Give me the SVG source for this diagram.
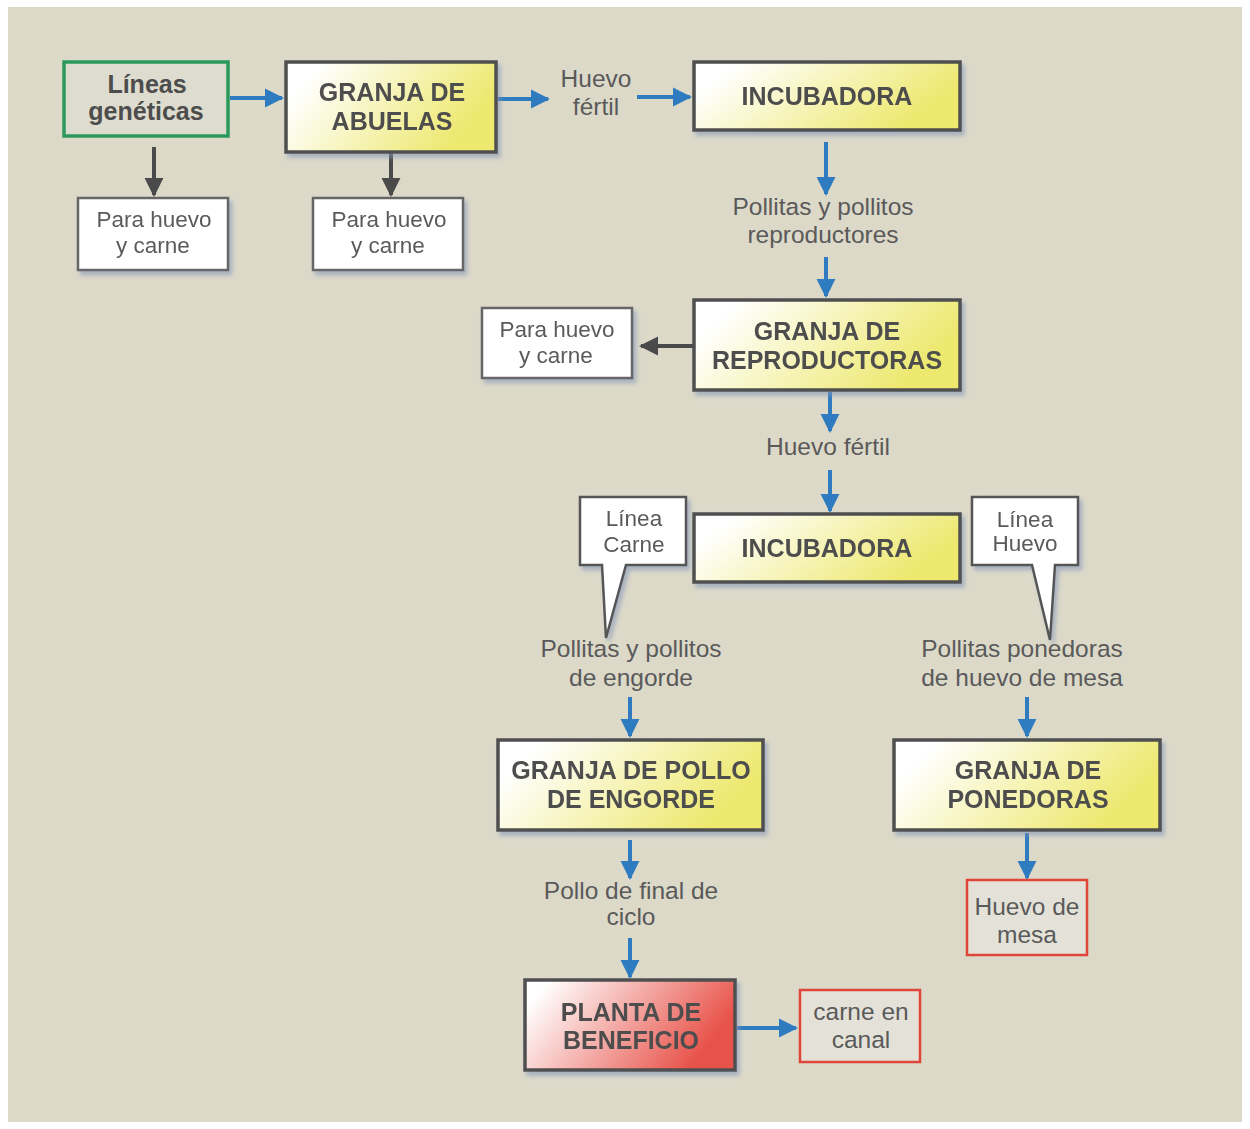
<svg xmlns="http://www.w3.org/2000/svg" width="1250" height="1129" viewBox="0 0 1250 1129">
<style>
.t{font-family:"Liberation Sans",Arial,sans-serif;font-weight:bold;font-size:25px;fill:#4d4d4d;text-anchor:middle}
.l{font-family:"Liberation Sans",Arial,sans-serif;font-size:24.5px;fill:#5a5a5a;text-anchor:middle}
.s{font-family:"Liberation Sans",Arial,sans-serif;font-size:22.5px;fill:#5a5a5a;text-anchor:middle}
.yb{fill:url(#yg);stroke:#4f4f4f;stroke-width:3.5}
.wb{fill:#ffffff;stroke:#666;stroke-width:2.5}
.rb{fill:#e4e2d8;stroke:#e0453a;stroke-width:2.5}
.ba{stroke:#2f7bbf;stroke-width:4;fill:none;marker-end:url(#bh)}
.da{stroke:#4a4a4a;stroke-width:4;fill:none;marker-end:url(#dh)}
</style>
<defs>
<linearGradient id="yg" x1="0" y1="0" x2="1" y2="0.35">
<stop offset="0.15" stop-color="#ffffff"/>
<stop offset="1" stop-color="#ede86e"/>
</linearGradient>
<linearGradient id="rg" x1="0" y1="0" x2="1" y2="0.35">
<stop offset="0.1" stop-color="#ffffff"/>
<stop offset="1" stop-color="#e8534a"/>
</linearGradient>
<filter id="sh" x="-10%" y="-10%" width="130%" height="140%">
<feDropShadow dx="3" dy="4" stdDeviation="2" flood-color="#8494b8" flood-opacity="0.6"/>
</filter>
<marker id="bh" viewBox="0 0 10 10" refX="9" refY="5" markerWidth="4.8" markerHeight="4.8" orient="auto" markerUnits="strokeWidth">
<path d="M0,0 L10,5 L0,10 Z" fill="#2f7bbf"/>
</marker>
<marker id="dh" viewBox="0 0 10 10" refX="9" refY="5" markerWidth="4.8" markerHeight="4.8" orient="auto" markerUnits="strokeWidth">
<path d="M0,0 L10,5 L0,10 Z" fill="#4a4a4a"/>
</marker>
</defs>
<rect x="0" y="0" width="1250" height="1129" fill="#ffffff"/>
<rect x="8" y="7" width="1234" height="1115" fill="#dcd9c9"/>

<g id="connectors">
<line class="ba" x1="230" y1="98" x2="282" y2="98"/>
<line class="ba" x1="498" y1="99" x2="548" y2="99"/>
<line class="ba" x1="637" y1="97" x2="690" y2="97"/>
<line class="ba" x1="826" y1="142" x2="826" y2="194"/>
<line class="ba" x1="826" y1="257" x2="826" y2="296"/>
<line class="ba" x1="830" y1="392" x2="830" y2="431"/>
<line class="ba" x1="830" y1="470" x2="830" y2="511"/>
<line class="ba" x1="630" y1="697" x2="630" y2="736"/>
<line class="ba" x1="1027" y1="697" x2="1027" y2="736"/>
<line class="ba" x1="630" y1="840" x2="630" y2="878"/>
<line class="ba" x1="630" y1="938" x2="630" y2="977"/>
<line class="ba" x1="1027" y1="833" x2="1027" y2="878"/>
<line class="ba" x1="737" y1="1028" x2="796" y2="1028"/>
<line class="da" x1="154" y1="147" x2="154" y2="195"/>
<line class="da" x1="391" y1="153" x2="391" y2="195"/>
<line class="da" x1="694" y1="346" x2="641" y2="346"/>
</g>

<g id="lineas-geneticas">
<rect x="64" y="62" width="164" height="74" fill="#dedcce" stroke="#2a9a5c" stroke-width="3.5"/>
<text class="t" x="147" y="93">Líneas</text>
<text class="t" x="146" y="120">genéticas</text>
</g>
<g id="granja-abuelas" filter="url(#sh)">
<rect class="yb" x="286" y="62" width="210" height="90"/>
<text class="t" x="392" y="101">GRANJA DE</text>
<text class="t" x="392" y="130">ABUELAS</text>
</g>
<g id="para1" filter="url(#sh)">
<rect class="wb" x="78" y="198" width="150" height="72"/>
<text class="s" x="154" y="227">Para huevo</text>
<text class="s" x="153" y="253">y carne</text>
</g>
<g id="para2" filter="url(#sh)">
<rect class="wb" x="313" y="198" width="150" height="72"/>
<text class="s" x="389" y="227">Para huevo</text>
<text class="s" x="388" y="253">y carne</text>
</g>
<g id="huevo-fertil-1">
<text class="l" x="596" y="87">Huevo</text>
<text class="l" x="596" y="115">fértil</text>
</g>
<g id="incubadora-1" filter="url(#sh)">
<rect class="yb" x="694" y="62" width="266" height="68"/>
<text class="t" x="827" y="105">INCUBADORA</text>
</g>
<g id="pollitos-reproductores">
<text class="l" x="823" y="215">Pollitas y pollitos</text>
<text class="l" x="823" y="243">reproductores</text>
</g>
<g id="granja-reproductoras" filter="url(#sh)">
<rect class="yb" x="694" y="300" width="266" height="90"/>
<text class="t" x="827" y="340">GRANJA DE</text>
<text class="t" x="827" y="369">REPRODUCTORAS</text>
</g>
<g id="para3" filter="url(#sh)">
<rect class="wb" x="482" y="308" width="150" height="70"/>
<text class="s" x="557" y="337">Para huevo</text>
<text class="s" x="556" y="363">y carne</text>
</g>
<g id="huevo-fertil-2">
<text class="l" x="828" y="455">Huevo fértil</text>
</g>
<g id="incubadora-2" filter="url(#sh)">
<rect class="yb" x="694" y="514" width="266" height="68"/>
<text class="t" x="827" y="557">INCUBADORA</text>
</g>
<g id="linea-carne" filter="url(#sh)">
<path d="M580,497 H686 V565 H626 L606,638 L602,565 H580 Z" fill="#ffffff" stroke="#555" stroke-width="2.5"/>
<text class="s" x="634" y="526">Línea</text>
<text class="s" x="634" y="552">Carne</text>
</g>
<g id="linea-huevo" filter="url(#sh)">
<path d="M972,497 H1078 V565 H1055 L1050,640 L1032,565 H972 Z" fill="#ffffff" stroke="#555" stroke-width="2.5"/>
<text class="s" x="1025" y="527">Línea</text>
<text class="s" x="1025" y="551">Huevo</text>
</g>
<g id="pollitos-engorde">
<text class="l" x="631" y="657">Pollitas y pollitos</text>
<text class="l" x="631" y="686">de engorde</text>
</g>
<g id="pollitas-ponedoras">
<text class="l" x="1022" y="657">Pollitas ponedoras</text>
<text class="l" x="1022" y="686">de huevo de mesa</text>
</g>
<g id="granja-pollo" filter="url(#sh)">
<rect class="yb" x="498" y="740" width="265" height="90"/>
<text class="t" x="631" y="779">GRANJA DE POLLO</text>
<text class="t" x="631" y="808">DE ENGORDE</text>
</g>
<g id="granja-ponedoras" filter="url(#sh)">
<rect class="yb" x="894" y="740" width="266" height="90"/>
<text class="t" x="1028" y="779">GRANJA DE</text>
<text class="t" x="1028" y="808">PONEDORAS</text>
</g>
<g id="pollo-final">
<text class="l" x="631" y="899">Pollo de final de</text>
<text class="l" x="631" y="925">ciclo</text>
</g>
<g id="planta-beneficio" filter="url(#sh)">
<rect x="525" y="980" width="210" height="90" fill="url(#rg)" stroke="#4f4f4f" stroke-width="3.5"/>
<text class="t" x="631" y="1021">PLANTA DE</text>
<text class="t" x="631" y="1049">BENEFICIO</text>
</g>
<g id="carne-canal">
<rect class="rb" x="800" y="990" width="120" height="72"/>
<text class="l" x="861" y="1020">carne en</text>
<text class="l" x="861" y="1048">canal</text>
</g>
<g id="huevo-mesa">
<rect class="rb" x="967" y="880" width="120" height="75"/>
<text class="l" x="1027" y="915">Huevo de</text>
<text class="l" x="1027" y="943">mesa</text>
</g>
</svg>
